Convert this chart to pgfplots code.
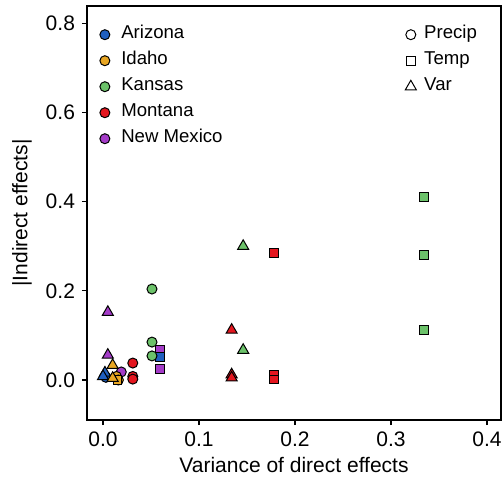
\documentclass[border=0pt]{standalone}
\usepackage{fontspec}
\setmainfont{Liberation Sans}
\usepackage{pgfplots}
\pgfplotsset{compat=1.18}

\definecolor{azcol}{HTML}{1F5FBF}
\definecolor{idcol}{HTML}{E8A623}
\definecolor{kscol}{HTML}{6CC26A}
\definecolor{mtcol}{HTML}{E4161F}
\definecolor{nmcol}{HTML}{A43CC8}

\pgfplotsset{
  pt/.style={only marks, mark options={draw=black, line width=0.5pt, fill=#1}},
  prc/.style={pt=#1, mark=*, mark size=2.5pt},
  tmp/.style={pt=#1, mark=square*, mark size=2.2pt},
  var/.style={pt=#1, mark=triangle*, mark size=3.2pt},
  frame/.style={
    width=207pt, height=207pt, scale only axis,
    at={(0,0)}, anchor=south west,
    xmin=-0.0167, xmax=0.4146,
    ymin=-0.0897, ymax=0.8386,
  },
  keybox/.style={
    anchor=north west, draw=none, fill=none, inner sep=0pt,
    row sep=0pt, column sep=#1,
    font=\fontsize{9.3}{10}\selectfont,
    nodes={inner sep=2pt, text height=6.6pt, text depth=2.4pt},
  },
  legend cell align=left,
  legend image code/.code={%
    \path (0pt,0pt) (9pt,0pt);
    \draw[#1] plot coordinates {(4.5pt,0pt)};},
}

\begin{document}
\begin{tikzpicture}[font=\fontsize{10.5}{12}\selectfont]
\begin{axis}[
  frame, name=ax,
  axis line style={black, line width=0.7pt},
  xtick={0,0.1,0.2,0.3,0.4},
  ytick={0,0.2,0.4,0.6,0.8},
  xtick pos=bottom, ytick pos=left,
  tick align=outside, major tick length=2.5pt,
  tick style={black, line width=0.6pt},
  /pgf/number format/assume math mode=true,
  /pgf/number format/.cd, fixed, fixed zerofill, precision=1, /pgfplots/.cd,
  xlabel={Variance of direct effects},
  ylabel={|Indirect effects|},
  xlabel style={at={(axis description cs:0.5,-0.109)}, anchor=center},
  ylabel style={at={(axis description cs:-0.157,0.5)}, anchor=center},
  legend style={keybox=1.5pt, at={(axis description cs:0.0195,0.963)}},
]
\addlegendimage{prc=azcol}\addlegendentry{Arizona}
\addlegendimage{prc=idcol}\addlegendentry{Idaho}
\addlegendimage{prc=kscol}\addlegendentry{Kansas}
\addlegendimage{prc=mtcol}\addlegendentry{Montana}
\addlegendimage{prc=nmcol}\addlegendentry{New Mexico}

% New Mexico
\addplot[prc=nmcol, forget plot] coordinates {(0.019,0.018)};
\addplot[tmp=nmcol, forget plot] coordinates {(0.059,0.067) (0.059,0.024)};
\addplot[var=nmcol, forget plot] coordinates {(0.005,0.152) (0.005,0.056)};
% Arizona
\addplot[prc=azcol, forget plot] coordinates {(0.003,0.006)};
\addplot[tmp=azcol, forget plot] coordinates {(0.059,0.052)};
\addplot[var=azcol, forget plot] coordinates {(0.002,0.016) (0.000,0.008)};
% Idaho
\addplot[prc=idcol, forget plot] coordinates {(0.014,0.008) (0.016,0.000)};
\addplot[tmp=idcol, forget plot] coordinates {(0.015,0.000)};
\addplot[var=idcol, forget plot] coordinates {(0.010,0.033) (0.010,0.004)};
% Kansas
\addplot[prc=kscol, forget plot] coordinates {(0.051,0.204) (0.051,0.085) (0.051,0.054)};
\addplot[tmp=kscol, forget plot] coordinates {(0.334,0.410) (0.334,0.280) (0.334,0.112)};
\addplot[var=kscol, forget plot] coordinates {(0.146,0.300) (0.146,0.067)};
% Montana
\addplot[prc=mtcol, forget plot] coordinates {(0.031,0.038) (0.031,0.008) (0.031,0.002)};
\addplot[tmp=mtcol, forget plot] coordinates {(0.178,0.285) (0.178,0.012) (0.178,0.001)};
\addplot[var=mtcol, forget plot] coordinates {(0.134,0.112) (0.134,0.012) (0.134,0.005)};
\end{axis}

\begin{axis}[
  frame, hide axis,
  legend style={keybox=0pt, at={(axis description cs:0.7585,0.963)}},
]
\addlegendimage{only marks, mark=o, mark size=2.5pt, mark options={black, line width=0.5pt}}
\addlegendentry{Precip}
\addlegendimage{only marks, mark=square, mark size=2.2pt, mark options={black, line width=0.5pt}}
\addlegendentry{Temp}
\addlegendimage{only marks, mark=triangle, mark size=3.2pt, mark options={black, line width=0.5pt}}
\addlegendentry{Var}
\end{axis}

\pgfresetboundingbox
\path[use as bounding box] ([shift={(-43.5pt,-30.5pt)}]ax.south west)
  rectangle ([shift={(207.5pt,210pt)}]ax.south west);
\end{tikzpicture}
\end{document}
